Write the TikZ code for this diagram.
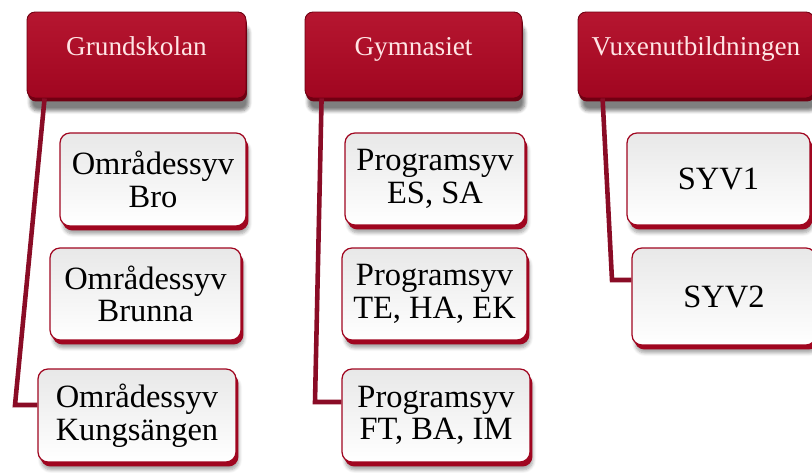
\documentclass[tikz,border=0pt]{standalone}
\usepackage{fontspec}
\setmainfont{Liberation Serif}
\usetikzlibrary{calc}
\usetikzlibrary{shadows}
\usetikzlibrary{shadows.blur}
\definecolor{head-red}{RGB}{160,6,32}
\definecolor{head-red-light}{RGB}{182,22,48}
\definecolor{rim-red}{RGB}{112,0,18}
\definecolor{trunk-red}{RGB}{138,12,38}
\definecolor{box-gray}{RGB}{232,232,232}
\tikzstyle{headbox}=[rounded corners=0.16cm, minimum height=1.72cm, inner sep=1pt, text depth=0.34cm,
  top color=head-red-light, bottom color=head-red, draw=rim-red, line width=0.5pt,
  text=white!90!red, font=\fontsize{15.5}{17}\selectfont,
  blur shadow={shadow xshift=0.6mm, shadow yshift=-2.6mm, shadow opacity=50, shadow blur steps=6},
  general shadow={fill=rim-red, shadow xshift=0.2mm, shadow yshift=-0.7mm}]
\tikzstyle{childbox}=[rounded corners=0.2cm, minimum height=1.86cm, align=center, inner sep=1pt,
  top color=box-gray, bottom color=white, draw=head-red, line width=0.7pt,
  font=\fontsize{18.5}{18.5}\selectfont,
  blur shadow={shadow xshift=0.6mm, shadow yshift=-1.6mm, shadow opacity=35, shadow blur steps=6},
  general shadow={fill=head-red, shadow xshift=0.5mm, shadow yshift=-0.9mm}]
\tikzstyle{trunk}=[trunk-red, line width=2.6pt]
% horizontal branch from a point on a trunk to the west side of a box
\newcommand{\branch}[2]{
  \draw[trunk] (#1) -- (#1 -| #2.west);
}

\begin{document}
\begin{tikzpicture}[x=0.02cm, y=-0.02cm]
\useasboundingbox (0,0) rectangle (812,473);
% headers
\node[headbox, minimum width=4.38cm] (grund) at (136.5,55) {Grundskolan};
\node[headbox, minimum width=4.34cm] (gymn) at (413.5,55) {Gymnasiet};
\node[headbox, minimum width=4.72cm] (vuxen) at (696,55) {Vuxenutbildningen};
% Grundskolan boxes
\node[childbox, minimum width=3.72cm] (bro) at (153,179.5) {Områdessyv\\Bro};
\node[childbox, minimum width=3.82cm, minimum height=1.84cm] (brunna) at (145.5,294) {Områdessyv\\Brunna};
\node[childbox, minimum width=3.96cm] (kungs) at (137,415.5) {Områdessyv\\Kungsängen};
% Gymnasiet boxes
\node[childbox, minimum width=3.6cm, minimum height=1.84cm] (esa) at (435,179) {Programsyv\\ES, SA};
\node[childbox, minimum width=3.7cm, minimum height=1.84cm] (tea) at (434.5,294) {Programsyv\\TE, HA, EK};
\node[childbox, minimum width=3.76cm] (fta) at (436,415.5) {Programsyv\\FT, BA, IM};
% Vuxenutbildningen boxes
\node[childbox, minimum width=3.66cm, minimum height=1.84cm] (syv1) at (718.5,179) {SYV1};
\node[childbox, minimum width=3.68cm, minimum height=1.94cm] (syv2) at (724,296.5) {SYV2};
% trunk lines
\coordinate (top1) at ([xshift=0.36cm]grund.south west);
\coordinate (end1) at (15,405);
\coordinate (top2) at ([xshift=0.34cm]gymn.south west);
\coordinate (end2) at (315,402);
\coordinate (top3) at ([xshift=0.5cm]vuxen.south west);
\coordinate (end3) at (612,280);
\draw[trunk] (top1) -- (end1) -- (end1 -| kungs.west);
\draw[trunk] (top2) -- (end2) -- (end2 -| fta.west);
\draw[trunk] (top3) -- (end3) -- (end3 -| syv2.west);
% branches
\branch{$(top1)!0.208!(end1)$}{bro}
\branch{$(top1)!0.593!(end1)$}{brunna}
\branch{$(top2)!0.21!(end2)$}{esa}
\branch{$(top2)!0.599!(end2)$}{tea}
\branch{$(top3)!0.352!(end3)$}{syv1}
\end{tikzpicture}
\end{document}
